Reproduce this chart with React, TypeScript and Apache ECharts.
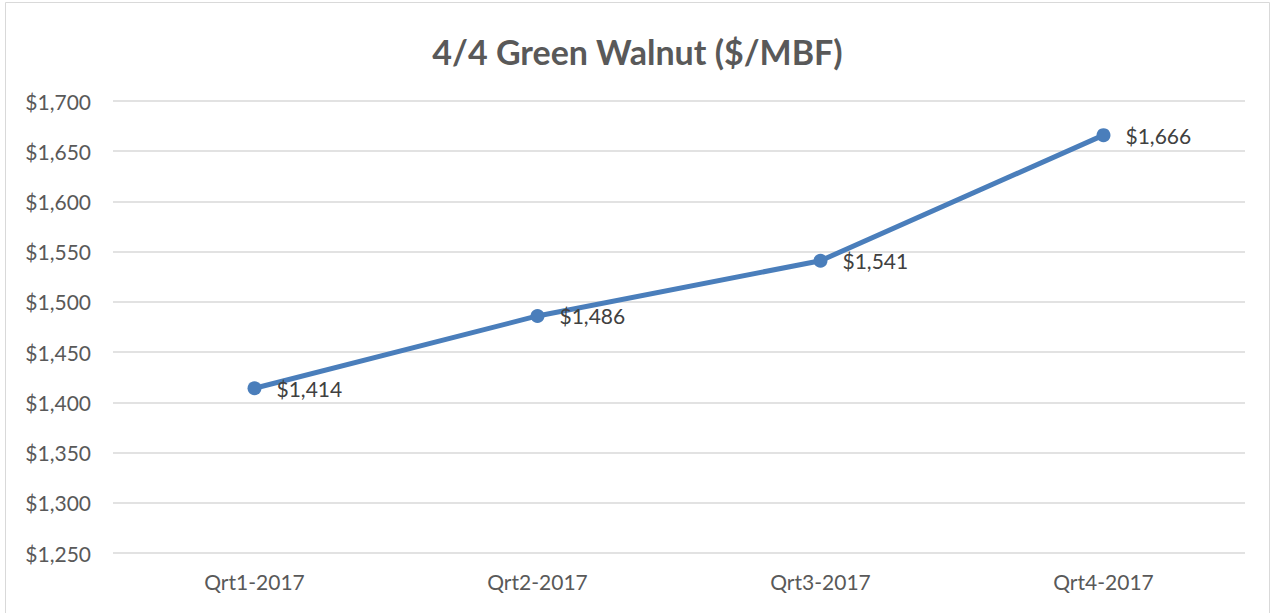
import React, { useEffect, useRef } from "react";
import * as echarts from "echarts";

const categories = ["Qrt1-2017", "Qrt2-2017", "Qrt3-2017", "Qrt4-2017"];
const prices = [1414, 1486, 1541, 1666];
const titleText = "4/4 Green Walnut ($/MBF)";

const fmt = (v: number) => "$" + v.toLocaleString("en-US");

export default function App() {
  const ref = useRef<HTMLDivElement>(null);
  useEffect(() => {
    const chart = echarts.init(ref.current!, null, { renderer: "svg" });
    chart.setOption({
      animation: false,
      backgroundColor: "#ffffff",
      textStyle: { fontFamily: "Lato, 'Open Sans', sans-serif" },
      title: {
        text: titleText,
        left: "center",
        top: 29,
        textStyle: { fontSize: 34, fontWeight: "bold", color: "#595959", fontFamily: "Lato, 'Open Sans', sans-serif" },
      },
      graphic: [
        {
          type: "rect",
          shape: { x: 5.5, y: 2.5, width: 1264, height: 640 },
          style: { fill: "none", stroke: "#d9d9d9", lineWidth: 1 },
          silent: true,
        },
      ],
      grid: { left: 113, right: 30, top: 101, bottom: 60, containLabel: false },
      xAxis: {
        type: "category",
        data: categories,
        boundaryGap: true,
        axisLine: { show: false },
        axisTick: { show: false },
        axisLabel: { color: "#595959", fontSize: 21, margin: 18 },
      },
      yAxis: {
        type: "value",
        min: 1250,
        max: 1700,
        interval: 50,
        axisLine: { show: false },
        axisTick: { show: false },
        splitLine: { lineStyle: { color: "#d9d9d9", width: 1.5 } },
        axisLabel: { color: "#595959", fontSize: 21, margin: 22, formatter: (v: number) => fmt(v) },
      },
      series: [
        {
          type: "line",
          data: prices,
          lineStyle: { color: "#4a7ebb", width: 5 },
          itemStyle: { color: "#4a7ebb" },
          symbol: "circle",
          symbolSize: 14,
          label: {
            show: true,
            position: "right",
            distance: 15,
            color: "#404040",
            fontSize: 21,
            formatter: (p: any) => fmt(p.value),
          },
        },
      ],
    });
    return () => chart.dispose();
  }, []);
  return (
    <div
      ref={ref}
      style={{ position: "fixed", left: 0, top: 0, width: 1275, height: 613 }}
    />
  );
}
